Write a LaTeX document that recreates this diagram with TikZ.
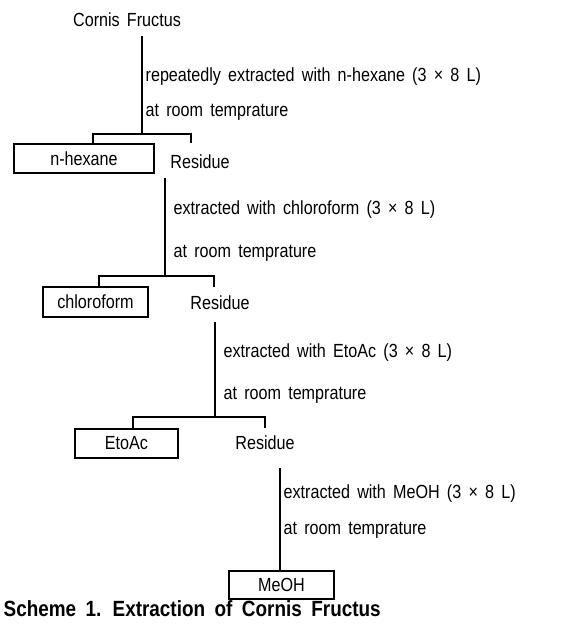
\documentclass[tikz,border=0pt]{standalone}
\usepackage{fontspec}
\setmainfont[FakeStretch=0.85,WordSpace=1.6]{Liberation Sans}
\newfontfamily\capfont[FakeStretch=0.86,WordSpace=1.8]{Liberation Sans Bold}
\begin{document}
\begin{tikzpicture}[x=1pt,y=-1pt,line width=1.3pt,
  txt/.style={inner sep=0pt,font=\fontsize{19}{21}\selectfont},
  lab/.style={txt,anchor=west},
  fbox/.style={txt,draw,line width=2pt,inner sep=0pt},
  conn/.style={line width=1.5pt}]
\useasboundingbox (0,0) rectangle (563,626);
% nodes
\node[txt] (cf) at (127,20) {Cornis Fructus};
\node[fbox,minimum width=140pt,minimum height=29pt] (hex) at (84,158.5) {n-hexane};
\node[txt] (r1) at (200,162) {Residue};
\node[fbox,minimum width=105pt,minimum height=30pt] (chl) at (95.5,302) {chloroform};
\node[txt] (r2) at (220,303) {Residue};
\node[fbox,minimum width=103pt,minimum height=29pt] (eto) at (126.5,443.5) {EtoAc};
\node[txt] (r3) at (265,443) {Residue};
\node[fbox,minimum width=105pt,minimum height=28pt] (meoh) at (281.5,585) {MeOH};
% labels
\node[lab] (l1a) at (145,77) {repeatedly extracted with n-hexane (3 × 8 L)};
\node[lab] (l1b) at (145,112) {at room temprature};
\node[lab] (l2a) at (173,210) {extracted with chloroform (3 × 8 L)};
\node[lab] (l2b) at (173,253) {at room temprature};
\node[lab] (l3a) at (223,353) {extracted with EtoAc (3 × 8 L)};
\node[lab] (l3b) at (223,395) {at room temprature};
\node[lab] (l4a) at (283,494) {extracted with MeOH (3 × 8 L)};
\node[lab] (l4b) at (283,530) {at room temprature};
\node[anchor=west,inner sep=0pt,font=\fontsize{22}{24}\capfont] (cap) at (3,609) {Scheme 1. Extraction of Cornis Fructus};
% coordinates
\coordinate (a1) at (142,36); \coordinate (b1) at (142,134);
\coordinate (bl1) at (93,134); \coordinate (br1) at (191,134);
\coordinate (tl1) at (93,143); \coordinate (tr1) at (191,143);
\coordinate (a2) at (165,178); \coordinate (b2) at (165,276);
\coordinate (bl2) at (99,276); \coordinate (br2) at (214,276);
\coordinate (tl2) at (99,287); \coordinate (tr2) at (214,287);
\coordinate (a3) at (215,322); \coordinate (b3) at (215,417);
\coordinate (bl3) at (133,417); \coordinate (br3) at (265,417);
\coordinate (tl3) at (133,428); \coordinate (tr3) at (265,428);
\coordinate (a4) at (280,468);
% connectors
\draw[conn] (a1) -- (b1);
\draw[conn] (tl1) -- (bl1) -- (br1) -- (tr1);
\draw[conn] (a2) -- (b2);
\draw[conn] (tl2) -- (bl2) -- (br2) -- (tr2);
\draw[conn] (a3) -- (b3);
\draw[conn] (tl3) -- (bl3) -- (br3) -- (tr3);
\draw[conn] (a4) -- (a4 |- meoh.north);
\end{tikzpicture}
\end{document}
